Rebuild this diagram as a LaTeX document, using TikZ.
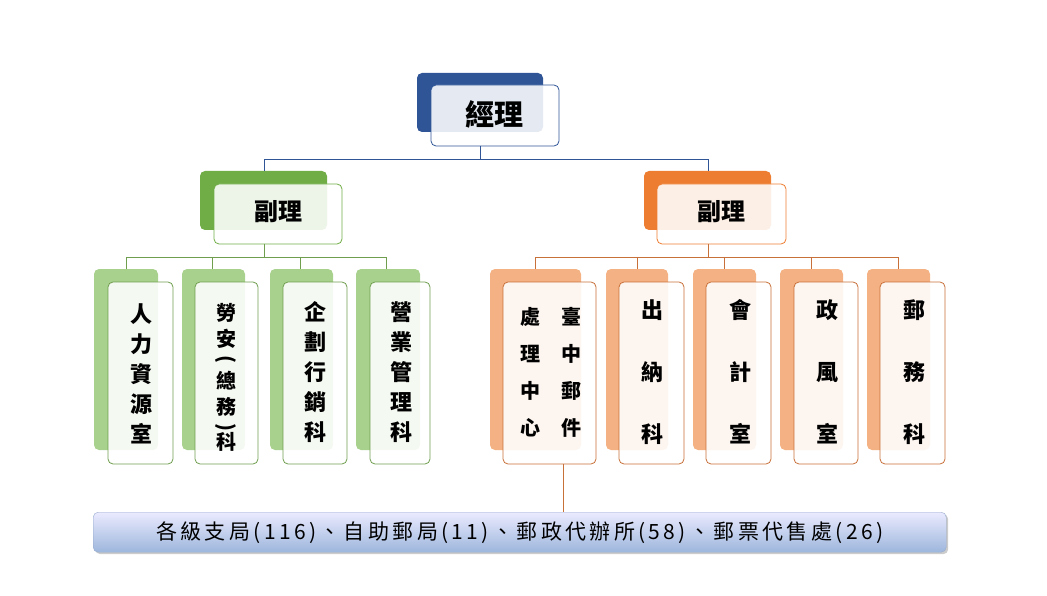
\documentclass[tikz,border=0pt]{standalone}
\usepackage{fontspec}
\setmainfont{Noto Sans CJK TC}
\usetikzlibrary{shadows}
\definecolor{dblue}{HTML}{2F5597}
\definecolor{dgreen}{HTML}{70AD47}
\definecolor{dorange}{HTML}{ED7D31}
\definecolor{lgreen}{HTML}{A9D18E}
\definecolor{lorange}{HTML}{F4B183}
\definecolor{gline}{HTML}{6F9E4F}
\definecolor{oline}{HTML}{C8703A}
\definecolor{bbot}{HTML}{9DB6DC}
\begin{document}
\begin{tikzpicture}[x=1pt,y=-1pt,
  back/.style={rounded corners=5pt},
  front/.style={rounded corners=5pt,fill=white,fill opacity=0.88,draw opacity=1,line width=0.8pt},
  lab/.style={font=\fontsize{24}{24}\selectfont\bfseries,align=center},
  vlab/.style={font=\fontsize{22}{22}\selectfont\bfseries,align=center},
  ch/.style={font=\fontsize{20}{20}\selectfont\bfseries,inner sep=0pt}]
\useasboundingbox (0,0) rectangle (1047,596);
% top
\fill[dblue,back] (417,73) rectangle (543,132);
\draw[front,draw=dblue] (431,85) rectangle (559,146);
\node[lab,font=\fontsize{29}{29}\selectfont\bfseries] (gm) at (494,114) {經理};
\coordinate (gmb) at (480,146);
% deputies
\fill[dgreen,back] (200,171) rectangle (327,230);
\draw[front,draw=dgreen] (214,184) rectangle (342,244);
\node[lab] (dl) at (278,212) {副理};
\fill[dorange,back] (644,171) rectangle (771,230);
\draw[front,draw=dorange] (657,184) rectangle (786,244);
\node[lab] (dr) at (721,212) {副理};
\coordinate (dlt) at (264,171); \coordinate (drt) at (708,171);
\draw[dblue,line width=0.7pt] (gmb) -- (480,159) -| (dlt);
\draw[dblue,line width=0.7pt] (480,159) -| (drt);
% left children
\foreach \bx/\fx/\ex in {94/108/173,182/195/258,270/283/347,356/370/430}{
  \fill[lgreen,back] (\bx,269) rectangle (\fx+50,450);
  \draw[front,draw=gline] (\fx,282) rectangle (\ex,464);
}
\node[vlab] (c1) at (141,374) {人\\[8pt]力\\[8pt]資\\[8pt]源\\[8pt]室};
\node[ch] (c2a) at (226,313) {勞};
\node[ch] (c2b) at (226,339) {安};
\node[ch,rotate=-90] (c2c) at (226,359) {(};
\node[ch] (c2d) at (226,381) {總};
\node[ch] (c2e) at (226,407) {務};
\node[ch,rotate=-90] (c2f) at (226,427) {)};
\node[ch] (c2g) at (226,442) {科};
\node[vlab] (c3) at (315,372) {企\\[8pt]劃\\[8pt]行\\[8pt]銷\\[8pt]科};
\node[vlab] (c4) at (401,372) {營\\[8pt]業\\[8pt]管\\[8pt]理\\[8pt]科};
\draw[gline,line width=0.7pt] (264,244) -- (264,257);
\draw[gline,line width=0.7pt] (126,269) -- (126,257) -- (386,257) -- (386,269);
\foreach \x in {212,300}{\draw[gline,line width=0.7pt] (\x,257) -- (\x,269);}
% right children
\foreach \bx/\bxe/\fx/\ex in {490/581/503/596,606/668/619/684,693/756/706/771,780/843/794/858,867/930/880/945}{
  \fill[lorange,back] (\bx,269) rectangle (\bxe,450);
  \draw[front,draw=oline] (\fx,282) rectangle (\ex,464);
}
\node[vlab,font=\fontsize{20}{20}\selectfont\bfseries] (r1a) at (530,372) {處\\[17pt]理\\[17pt]中\\[17pt]心};
\node[vlab,font=\fontsize{20}{20}\selectfont\bfseries] (r1b) at (571,372) {臺\\[17pt]中\\[17pt]郵\\[17pt]件};
\node[vlab] (r2) at (652,372) {出\\[40pt]納\\[40pt]科};
\node[vlab] (r3) at (740,372) {會\\[40pt]計\\[40pt]室};
\node[vlab] (r4) at (827,372) {政\\[40pt]風\\[40pt]室};
\node[vlab] (r5) at (914,372) {郵\\[40pt]務\\[40pt]科};
\draw[oline,line width=0.7pt] (708,244) -- (708,257);
\draw[oline,line width=0.7pt] (535,269) -- (535,257) -- (898,257) -- (898,269);
\foreach \x in {637,724,811}{\draw[oline,line width=0.7pt] (\x,257) -- (\x,269);}
% bottom
\coordinate (r1b0) at (563,464);
\draw[oline,line width=0.7pt] (r1b0) -- (563,512);
\node[draw=dblue!50,rounded corners=5pt,top color=white!92!blue,bottom color=bbot,
  drop shadow={shadow xshift=2pt,shadow yshift=-2pt,opacity=0.4},
  minimum width=853pt,minimum height=40pt,inner sep=0pt,font=\fontsize{21}{21}\selectfont,anchor=north west] (bot) at (93,512)
  {\addfontfeatures{LetterSpace=16}各級支局(116)、自助郵局(11)、郵政代辦所(58)、郵票代售處(26)};
\end{tikzpicture}
\end{document}
